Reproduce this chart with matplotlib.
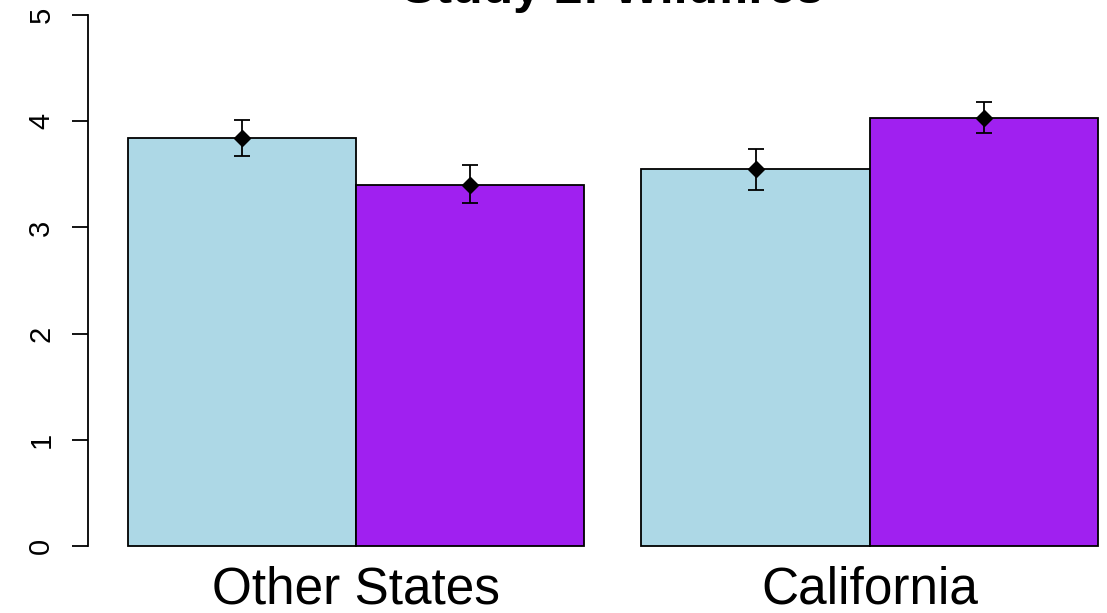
import matplotlib
matplotlib.use("Agg")
import matplotlib.pyplot as plt
import numpy as np

plt.rcParams['font.family'] = ['Liberation Sans', 'DejaVu Sans']

# Study data
groups = ["Other States", "California"]
conditions = ["Control", "Wildfire"]
means = [[3.84, 3.40], [3.55, 4.03]]
lower = [[3.67, 3.23], [3.35, 3.89]]
upper = [[4.01, 3.59], [3.74, 4.18]]
colors = ["#ADD8E6", "#A020F0"]
y_ticks = [0, 1, 2, 3, 4, 5]
title = "Study 2: Wildfires"

W, H = 1107, 613
fig = plt.figure(figsize=(W / 100, H / 100), dpi=100)

# plot region in pixels: left spine at x=88, y=0 at 546, y=5 at 15
px_per_unit = 228.2
x0_px = 128.0
left_px, right_px = 88.0, 1107.0
ax = fig.add_axes([left_px / W, (H - 546) / H, (right_px - left_px) / W, 531 / H])
ax.set_xlim((left_px - x0_px) / px_per_unit, (right_px - x0_px) / px_per_unit)
ax.set_ylim(0, 5)

bar_w = 1.0
group_gap = 0.25
centers = []
for g, gname in enumerate(groups):
    start = g * (len(conditions) * bar_w + group_gap)
    xs = start + bar_w * (np.arange(len(conditions)) + 0.5)
    m = np.array(means[g])
    lo = np.array(lower[g])
    hi = np.array(upper[g])
    ax.bar(xs, m, width=bar_w, color=colors, edgecolor="black",
           linewidth=1.3, clip_on=False, zorder=2)
    ax.errorbar(xs, m, yerr=[m - lo, hi - m], fmt="D", color="black",
                markersize=8, capsize=5.8, elinewidth=1.3,
                capthick=1.3, zorder=3, clip_on=False)
    centers.append(start + len(conditions) * bar_w / 2)

for side in ["top", "right", "bottom"]:
    ax.spines[side].set_visible(False)
ax.spines["left"].set_linewidth(1.3)
ax.spines["left"].set_bounds(0, 5)

ax.set_yticks(y_ticks)
ax.set_yticklabels([str(t) for t in y_ticks], rotation=90, va="center",
                   fontsize=21)
ax.tick_params(axis="y", length=11.5, width=1.3, pad=12)

ax.set_xticks(centers)
ax.set_xticklabels(groups, fontsize=37)
ax.tick_params(axis="x", length=0, pad=14)

fig.text(613 / W, (H - 3) / H, title, ha="center", va="baseline",
         fontsize=36, fontweight="bold")

fig.savefig("out.png", dpi=100)
